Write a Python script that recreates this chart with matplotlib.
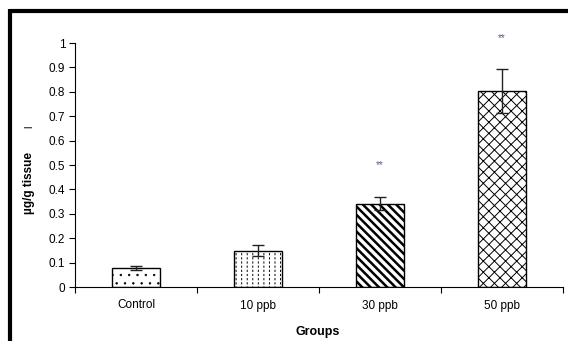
import matplotlib
matplotlib.use("Agg")
import matplotlib.pyplot as plt
from matplotlib.lines import Line2D

plt.rcParams['font.family'] = ['Liberation Sans', 'DejaVu Sans']

categories = ["Control", "10 ppb", "30 ppb", "50 ppb"]
values = [0.077, 0.149, 0.342, 0.802]
errors = [0.008, 0.023, 0.025, 0.09]
signif = ["", "", "**", "**"]
sig_y = [None, None, 0.50, 1.02]
hatches = ['..', '|||', '\\\\\\\\', 'xxx']
hatch_lw = [0.5, 0.7, 1.8, 0.7]

fig = plt.figure(figsize=(5.68, 3.41), dpi=100)
ax = fig.add_axes([75/568, 1-287/341, (563-75)/568, (287-43)/341])


def set_hlw(container, lw):
    for p in container.patches:
        if hasattr(p, 'set_hatch_linewidth'):
            p.set_hatch_linewidth(lw)


x = list(range(len(categories)))
for i in x:
    b = ax.bar(i, values[i], width=0.4, color='white', edgecolor='black',
               linewidth=0, hatch=hatches[i], zorder=2)
    set_hlw(b, hatch_lw[i])
    if hatches[i] == '|||':
        # break the vertical lines into dashes
        b2 = ax.bar(i, values[i], width=0.4, color='none', edgecolor='white',
                    linewidth=0, hatch='----', zorder=2.1)
        set_hlw(b2, 1.4)
    ax.bar(i, values[i], width=0.4, color='none', edgecolor='black',
           linewidth=1.0, zorder=2.2)
    ax.errorbar(i, values[i], yerr=errors[i], fmt='none', ecolor='#222222',
                elinewidth=1.0, capsize=4, capthick=1.0, zorder=3)
    if signif[i]:
        ax.text(i, sig_y[i], signif[i], ha='center', va='center', fontsize=7,
                color='#556080', clip_on=False)

ax.set_xlim(-0.5, 3.5)
ax.set_ylim(0, 1)
ax.set_yticks([0, 0.1, 0.2, 0.3, 0.4, 0.5, 0.6, 0.7, 0.8, 0.9, 1.0])
ax.set_yticklabels(['0', '0.1', '0.2', '0.3', '0.4', '0.5', '0.6', '0.7', '0.8', '0.9', '1'],
                   fontsize=8.5)
ax.set_xticks([-0.5, 0.5, 1.5, 2.5, 3.5])
ax.set_xticklabels([])
ax.set_xticks(x, minor=True)
ax.set_xticklabels(categories, minor=True, fontsize=8.5)
ax.tick_params(axis='x', which='minor', length=0, pad=9)
ax.tick_params(axis='x', which='major', length=4, width=0.8, direction='out')
ax.tick_params(axis='y', length=4, width=0.8, direction='out', pad=3)

for s in ['top', 'right']:
    ax.spines[s].set_visible(False)
ax.spines['left'].set_linewidth(0.8)
ax.spines['bottom'].set_linewidth(0.8)

fig.text(318/568, 1-332/341, "Groups", ha='center', va='center',
         fontsize=9, fontweight='bold')
fig.text(29/568, 1-183/341, "µg/g tissue", ha='center', va='center',
         fontsize=8.5, fontweight='bold', rotation=90)
fig.text(29/568, 1-127/341, "l", ha='center', va='center',
         fontsize=7.5, rotation=90)

# border frame (top and left)
fig.add_artist(Line2D([10/568, 1], [1-10.5/341, 1-10.5/341], color='black',
                      linewidth=3, transform=fig.transFigure, solid_capstyle='butt'))
fig.add_artist(Line2D([10/568, 10/568], [1-9/341, 0], color='black',
                      linewidth=3, transform=fig.transFigure, solid_capstyle='butt'))

fig.savefig("out.png", dpi=100)
